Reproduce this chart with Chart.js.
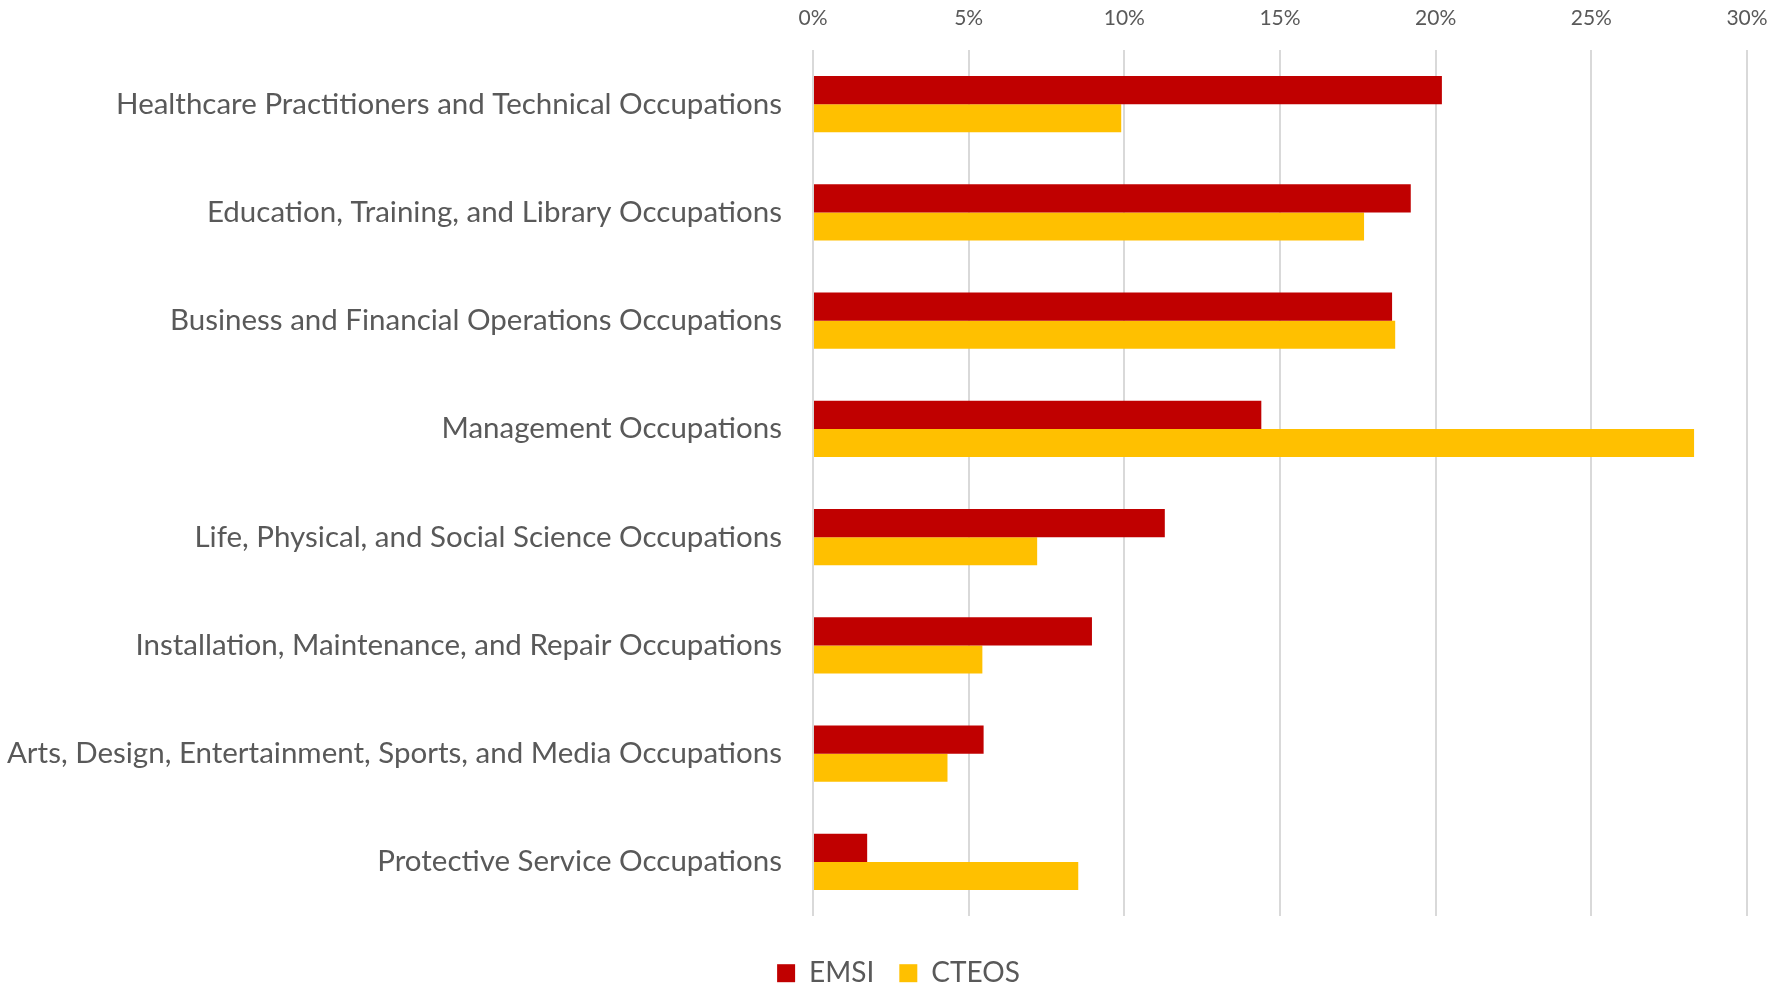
<!DOCTYPE html>
<html>
<head>
<meta charset="utf-8">
<script src="https://cdn.jsdelivr.net/npm/chart.js@4"></script>
<style>
  html, body { margin: 0; padding: 0; background: #ffffff; }
  #chart { display: block; }
</style>
</head>
<body>
<canvas id="chart" width="1772" height="991"></canvas>
<script>
// Catégories et séries
const categories = [
    'Healthcare Practitioners and Technical Occupations',
    'Education, Training, and Library Occupations',
    'Business and Financial Operations Occupations',
    'Management Occupations',
    'Life, Physical, and Social Science Occupations',
    'Installation, Maintenance, and Repair Occupations',
    'Arts, Design, Entertainment, Sports, and Media Occupations',
    'Protective Service Occupations'
];
const emsiValues = [0.202, 0.192, 0.186, 0.144, 0.113, 0.0896, 0.0548, 0.0174];
const cteosValues = [0.099, 0.177, 0.187, 0.283, 0.072, 0.0544, 0.0432, 0.0852];
const seriesNames = ['EMSI', 'CTEOS'];

const textColor = '#595959';
const fontFamily = 'Lato, "Open Sans", sans-serif';

// Hauteur fixe de la légende + léger décalage à droite
const legendTweak = {
    id: 'legendTweak',
    beforeInit(chart) {
        const fit = chart.legend.fit;
        chart.legend.fit = function () {
            fit.call(this);
            this.height = 75;
        };
    },
    afterUpdate(chart) {
        chart.legend.left += 25;
        chart.legend.right += 25;
    }
};

new Chart(document.getElementById('chart').getContext('2d'), {
    type: 'bar',
    data: {
        labels: categories,
        datasets: [
            {
                label: seriesNames[0],
                data: emsiValues,
                backgroundColor: '#C00000',
                borderWidth: 0
            },
            {
                label: seriesNames[1],
                data: cteosValues,
                backgroundColor: '#FFC000',
                borderWidth: 0
            }
        ]
    },
    options: {
        indexAxis: 'y',
        responsive: false,
        animation: false,
        datasets: {
            bar: { categoryPercentage: 0.52, barPercentage: 1.0 }
        },
        layout: { padding: { top: 0, right: 25, left: 0, bottom: 0 } },
        plugins: {
            tooltip: { enabled: false },
            legend: {
                position: 'bottom',
                title: {
                    display: true,
                    text: ' ',
                    font: { size: 1 },
                    padding: { top: 0, bottom: 17 }
                },
                labels: {
                    color: textColor,
                    font: { family: fontFamily, size: 28 },
                    boxWidth: 18,
                    boxHeight: 18,
                    padding: 25
                }
            }
        },
        scales: {
            x: {
                position: 'top',
                min: 0,
                max: 0.3,
                border: { display: false },
                grid: { color: '#D9D9D9', lineWidth: 2, drawTicks: false },
                ticks: {
                    stepSize: 0.05,
                    padding: 19,
                    color: textColor,
                    font: { family: fontFamily, size: 21 },
                    callback: v => Math.round(v * 100) + '%'
                },
                afterFit: scale => {
                    scale.height = 50;
                    scale.paddingLeft = 0;
                    scale.paddingRight = 0;
                }
            },
            y: {
                border: { display: false },
                grid: { display: false },
                ticks: {
                    padding: 23,
                    color: textColor,
                    font: { family: fontFamily, size: 29.5 }
                },
                afterFit: scale => { scale.width = 813; }
            }
        }
    },
    plugins: [legendTweak]
});
</script>
</body>
</html>
